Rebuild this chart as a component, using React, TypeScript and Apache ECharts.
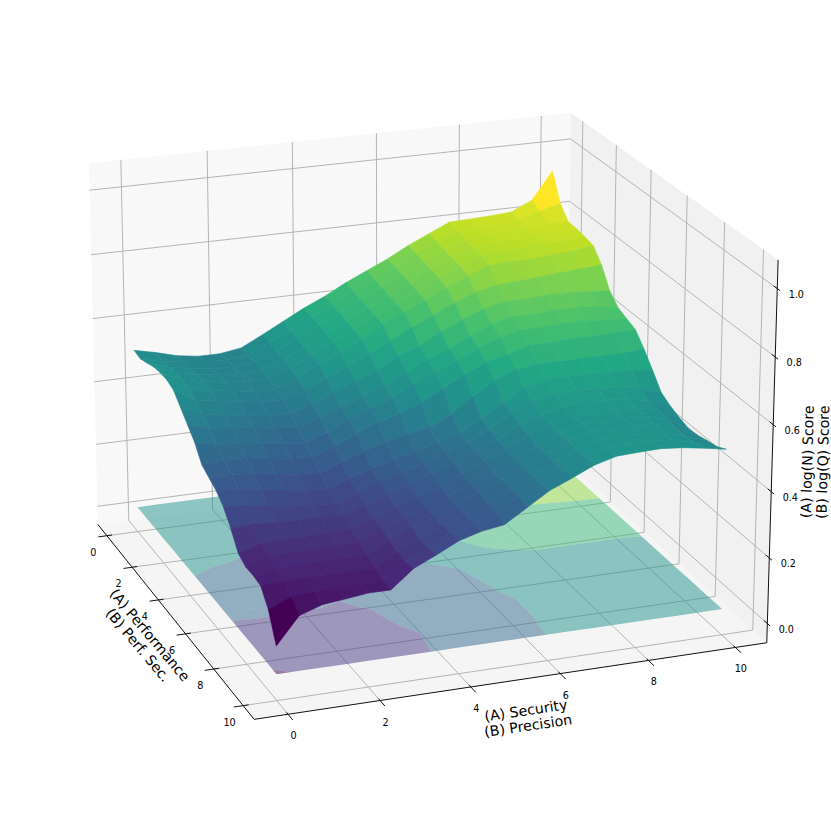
import React, { useEffect, useRef } from "react";
import * as echarts from "echarts";

const securityTicks = [0, 2, 4, 6, 8, 10];
const perfTicks = [0, 2, 4, 6, 8, 10];
const scoreTicks = [0, 0.2, 0.4, 0.6, 0.8, 1.0];
const gridStep = 0.5;
const contourLevels = [0, 0.15, 0.3, 0.45, 0.6, 0.75, 0.9, 1.05];

// rows: perf 0 -> 10 in steps of 0.5; columns: security 0 -> 10 in steps of 0.5
const scoreGrid = [
  [.52, .505, .487, .477, .477, .487, .52, .555, .59, .62, .655, .685, .715, .75, .78, .81, .812, .815, .82, .85, .936],
  [.515, .50, .49, .48, .48, .487, .52, .55, .585, .615, .65, .68, .71, .745, .775, .80, .805, .81, .815, .835, .852],
  [.525, .505, .49, .482, .48, .485, .515, .545, .58, .61, .645, .675, .705, .74, .77, .795, .80, .805, .81, .815, .814],
  [.535, .51, .495, .485, .48, .483, .51, .54, .575, .605, .64, .67, .70, .735, .765, .79, .795, .80, .805, .81, .812],
  [.54, .51, .495, .485, .48, .48, .505, .535, .57, .60, .635, .665, .695, .73, .76, .785, .79, .795, .80, .805, .807],
  [.54, .505, .49, .48, .47, .47, .495, .53, .56, .59, .63, .66, .69, .72, .75, .775, .78, .78, .785, .79, .80],
  [.53, .49, .48, .47, .46, .46, .48, .51, .54, .57, .60, .635, .665, .695, .72, .735, .74, .745, .75, .755, .76],
  [.50, .47, .46, .45, .44, .44, .46, .49, .515, .54, .575, .60, .635, .665, .69, .705, .705, .71, .71, .705, .70],
  [.47, .45, .445, .435, .425, .42, .44, .465, .49, .515, .55, .58, .605, .635, .665, .68, .68, .685, .685, .68, .668],
  [.44, .425, .42, .41, .40, .395, .42, .45, .475, .50, .535, .565, .59, .62, .645, .66, .66, .665, .665, .66, .655],
  [.395, .40, .40, .39, .38, .375, .40, .43, .455, .475, .50, .535, .57, .60, .615, .635, .635, .64, .64, .64, .643],
  [.38, .38, .375, .365, .355, .35, .375, .40, .42, .435, .445, .48, .525, .565, .59, .60, .60, .60, .60, .60, .605],
  [.365, .36, .35, .34, .33, .325, .35, .37, .39, .405, .425, .445, .48, .52, .555, .575, .575, .575, .575, .57, .561],
  [.34, .335, .325, .315, .31, .305, .33, .355, .375, .395, .42, .44, .47, .51, .535, .555, .555, .55, .55, .535, .515],
  [.30, .305, .30, .30, .30, .295, .315, .34, .36, .385, .41, .435, .46, .50, .52, .54, .54, .54, .535, .52, .497],
  [.25, .27, .275, .275, .275, .28, .30, .325, .345, .37, .40, .43, .455, .49, .515, .53, .53, .53, .53, .515, .484],
  [.235, .255, .26, .26, .26, .265, .295, .32, .34, .365, .395, .42, .445, .48, .51, .53, .53, .53, .53, .51, .475],
  [.235, .245, .25, .25, .25, .25, .285, .315, .335, .36, .39, .42, .445, .48, .51, .53, .53, .53, .53, .505, .477],
  [.23, .235, .235, .235, .235, .235, .275, .30, .335, .36, .385, .42, .445, .48, .51, .53, .53, .53, .525, .505, .484],
  [.185, .215, .22, .222, .225, .225, .27, .303, .338, .358, .38, .42, .45, .48, .51, .53, .532, .533, .527, .51, .49],
  [.104, .184, .207, .214, .222, .222, .276, .307, .34, .359, .369, .41, .452, .48, .51, .528, .531, .533, .527, .517, .505],
];

const xLabel = "(A) Security\n(B) Precision";
const yLabel = "(A) Performance\n(B) Perf. Sec.";
const zLabel = "(A) log(N) Score\n(B) log(Q) Score";

const W = 831;
const H = 821;
const FONT = '"DejaVu Sans"';

const VIRIDIS = ["#440154", "#482475", "#414487", "#355f8d", "#2a788e", "#21918c", "#22a884", "#44bf70", "#7ad151", "#bddf26", "#fde725"];
const hex = (c: string) => [1, 3, 5].map((k) => parseInt(c.slice(k, k + 2), 16));
function viridis(t: number) {
  const v = Math.max(0, Math.min(1, t)) * 10;
  const i = Math.min(9, Math.floor(v));
  const a = hex(VIRIDIS[i]);
  const b = hex(VIRIDIS[i + 1]);
  const f = v - i;
  return `rgb(${a.map((q, k) => Math.round(q + (b[k] - q) * f)).join(",")})`;
}

// axis box limits
const xMin = -0.73, xMax = 10.73, yMin = -0.73, yMax = 10.73, zMin = -0.059, zMax = 1.083;
const floorZ = 0.02;

// camera: box corner (u, v, w) -> where it falls on the page
const boxCorners = [
  [0, 1, 0, 254, 719],
  [1, 1, 0, 767, 643],
  [0, 0, 0, 98, 525],
  [1, 0, 0, 566, 462],
  [0, 0, 1, 89, 163],
  [1, 0, 1, 571, 113],
  [1, 1, 1, 778, 260],
];

function solveCamera() {
  const A: number[][] = [];
  const b: number[] = [];
  for (const [u, v, w, sx0, sy0] of boxCorners) {
    const sx = sx0 / 800, sy = sy0 / 800;
    A.push([u, v, w, 1, 0, 0, 0, 0, -sx * u, -sx * v, -sx * w]); b.push(sx);
    A.push([0, 0, 0, 0, u, v, w, 1, -sy * u, -sy * v, -sy * w]); b.push(sy);
  }
  const n = 11;
  const M = Array.from({ length: n }, (_, i) => {
    const row = new Array(n + 1).fill(0);
    for (let j = 0; j < n; j++) for (let k = 0; k < A.length; k++) row[j] += A[k][i] * A[k][j];
    for (let k = 0; k < A.length; k++) row[n] += A[k][i] * b[k];
    return row;
  });
  for (let c = 0; c < n; c++) {
    let p = c;
    for (let r = c + 1; r < n; r++) if (Math.abs(M[r][c]) > Math.abs(M[p][c])) p = r;
    [M[c], M[p]] = [M[p], M[c]];
    for (let r = 0; r < n; r++) {
      if (r === c) continue;
      const f = M[r][c] / M[c][c];
      for (let k = c; k <= n; k++) M[r][k] -= f * M[c][k];
    }
  }
  return M.map((row, i) => row[n] / row[i]);
}
const P = solveCamera();

function project(x: number, y: number, z: number): [number, number] {
  const u = (x - xMin) / (xMax - xMin);
  const v = (y - yMin) / (yMax - yMin);
  const w = (z - zMin) / (zMax - zMin);
  const d = P[8] * u + P[9] * v + P[10] * w + 1;
  return [
    ((P[0] * u + P[1] * v + P[2] * w + P[3]) / d) * 800,
    ((P[4] * u + P[5] * v + P[6] * w + P[7]) / d) * 800,
  ];
}

type Pt = [number, number, number];
const clipBand = (poly: Pt[], level: number, keepAbove: boolean): Pt[] => {
  const out: Pt[] = [];
  for (let i = 0; i < poly.length; i++) {
    const a = poly[i];
    const b = poly[(i + 1) % poly.length];
    const ina = keepAbove ? a[2] >= level : a[2] <= level;
    const inb = keepAbove ? b[2] >= level : b[2] <= level;
    if (ina) out.push(a);
    if (ina !== inb) {
      const t = (level - a[2]) / (b[2] - a[2]);
      out.push([a[0] + (b[0] - a[0]) * t, a[1] + (b[1] - a[1]) * t, level]);
    }
  }
  return out;
};

function floorBandPath(lo: number, hi: number) {
  let d = "";
  for (let j = 0; j < scoreGrid.length - 1; j++) {
    for (let i = 0; i < scoreGrid[j].length - 1; i++) {
      const q: Pt[] = [
        [i * gridStep, j * gridStep, scoreGrid[j][i]],
        [(i + 1) * gridStep, j * gridStep, scoreGrid[j][i + 1]],
        [(i + 1) * gridStep, (j + 1) * gridStep, scoreGrid[j + 1][i + 1]],
        [i * gridStep, (j + 1) * gridStep, scoreGrid[j + 1][i]],
      ];
      const c = clipBand(clipBand(q, lo, true), hi, false);
      if (c.length < 3) continue;
      c.forEach((p, k) => {
        const s = project(p[0], p[1], floorZ);
        d += `${k ? "L" : "M"}${s[0].toFixed(2)} ${s[1].toFixed(2)}`;
      });
      d += "Z";
    }
  }
  return d;
}

export default function App() {
  const ref = useRef<HTMLDivElement>(null);
  useEffect(() => {
    const chart = echarts.init(ref.current!, undefined, { renderer: "svg" });

    const mk = (items: any[], draw: (item: any, api: any) => any) => ({
      type: "custom" as const,
      coordinateSystem: "cartesian2d",
      silent: true,
      clip: false,
      animation: false,
      data: items.map((_, i) => [i, 0]),
      renderItem: (params: any, api: any) => draw(items[params.dataIndex], api),
    });
    const toPage = (api: any, p: [number, number]) => api.coord(p);
    const poly = (api: any, pts: [number, number][], style: any) => ({
      type: "polygon",
      shape: { points: pts.map((p) => toPage(api, p)) },
      style,
    });
    const seg = (api: any, a: [number, number], b: [number, number], stroke: string, lineWidth: number) => {
      const p = toPage(api, a);
      const q = toPage(api, b);
      return { type: "line", shape: { x1: p[0], y1: p[1], x2: q[0], y2: q[1] }, style: { stroke, lineWidth } };
    };

    // panes
    const panes = [
      { pts: [[xMin, yMin, zMin], [xMax, yMin, zMin], [xMax, yMin, zMax], [xMin, yMin, zMax]], fill: "#f8f8f8" },
      { pts: [[xMax, yMin, zMin], [xMax, yMax, zMin], [xMax, yMax, zMax], [xMax, yMin, zMax]], fill: "#f1f1f1" },
      { pts: [[xMin, yMin, zMin], [xMax, yMin, zMin], [xMax, yMax, zMin], [xMin, yMax, zMin]], fill: "#f5f5f5" },
    ];

    // grid
    const gridLines: number[][][] = [];
    securityTicks.forEach((t) => {
      gridLines.push([[t, yMin, zMin], [t, yMin, zMax]]);
      gridLines.push([[t, yMin, zMin], [t, yMax, zMin]]);
    });
    perfTicks.forEach((t) => {
      gridLines.push([[xMax, t, zMin], [xMax, t, zMax]]);
      gridLines.push([[xMin, t, zMin], [xMax, t, zMin]]);
    });
    scoreTicks.forEach((t) => {
      gridLines.push([[xMin, yMin, t], [xMax, yMin, t]]);
      gridLines.push([[xMax, yMin, t], [xMax, yMax, t]]);
    });

    // floor contours
    const bands = contourLevels.slice(0, -1).map((lo, k) => ({
      d: floorBandPath(lo, contourLevels[k + 1]),
      fill: viridis(k / (contourLevels.length - 2)),
    }));

    // surface facets
    const cells: { i: number; j: number; avg: number; key: number }[] = [];
    for (let j = 0; j < scoreGrid.length - 1; j++) {
      for (let i = 0; i < scoreGrid[j].length - 1; i++) {
        const avg = (scoreGrid[j][i] + scoreGrid[j][i + 1] + scoreGrid[j + 1][i] + scoreGrid[j + 1][i + 1]) / 4;
        cells.push({ i, j, avg, key: j * gridStep * 0.94 - i * gridStep * 0.34 + avg * 3 });
      }
    }
    cells.sort((a, b) => a.key - b.key);
    const avgs = cells.map((c) => c.avg);
    const vMin = Math.min(...avgs);
    const vMax = Math.max(...avgs);

    // axes
    const axisLines = [
      [[xMin, yMax, zMin], [xMax, yMax, zMin]],
      [[xMin, yMin, zMin], [xMin, yMax, zMin]],
      [[xMax, yMax, zMin], [xMax, yMax, zMax]],
    ];
    const tickMarks: number[][][] = [];
    securityTicks.forEach((t) => tickMarks.push([[t, yMax - 0.1, zMin], [t, yMax + 0.3, zMin]]));
    perfTicks.forEach((t) => tickMarks.push([[xMin + 0.12, t, zMin], [xMin - 0.2, t, zMin]]));
    scoreTicks.forEach((t) => tickMarks.push([[xMax, yMax - 0.18, t], [xMax, yMax + 0.14, t]]));

    // texts
    const texts: any[] = [];
    const tickText = (text: string, p: [number, number], dx: number, dy: number) =>
      texts.push({ text, x: p[0] + dx, y: p[1] + dy, rot: 0, size: 9.6 });
    securityTicks.forEach((t) => tickText(String(t), project(t, yMax, zMin), 5.5, 21.5));
    perfTicks.forEach((t) => tickText(String(t), project(xMin, t, zMin), -13.5, 16.5));
    scoreTicks.forEach((t) => tickText(t.toFixed(1), project(xMax, yMax, t), 19, 5.5));
    texts.push({ text: xLabel, x: 527, y: 718, rot: 8.4, size: 14.2, lh: 15.5 });
    texts.push({ text: yLabel, x: 144, y: 640, rot: -50, size: 14.2, lh: 15.5 });
    texts.push({ text: zLabel, x: 815, y: 462, rot: 88.5, size: 14.2, lh: 15.5 });

    const series = [
      mk(panes, (p, api) =>
        poly(api, p.pts.map((q: number[]) => project(q[0], q[1], q[2])), { fill: p.fill, stroke: "none" })
      ),
      mk(gridLines, (l, api) =>
        seg(api, project(l[0][0], l[0][1], l[0][2]), project(l[1][0], l[1][1], l[1][2]), "#b4b4b4", 1)
      ),
      mk(bands, (b) => ({
        type: "path",
        shape: { pathData: b.d },
        style: { fill: b.fill, opacity: 0.5, stroke: "none" },
      })),
      mk(cells, (c, api) => {
        const { i, j } = c;
        const corner = (ii: number, jj: number) => project(ii * gridStep, jj * gridStep, scoreGrid[jj][ii]);
        const fill = viridis((c.avg - vMin) / (vMax - vMin));
        return poly(api, [corner(i, j), corner(i + 1, j), corner(i + 1, j + 1), corner(i, j + 1)], {
          fill,
          stroke: fill,
          lineWidth: 0.6,
        });
      }),
      mk(axisLines, (l, api) =>
        seg(api, project(l[0][0], l[0][1], l[0][2]), project(l[1][0], l[1][1], l[1][2]), "#111", 1)
      ),
      mk(tickMarks, (l, api) =>
        seg(api, project(l[0][0], l[0][1], l[0][2]), project(l[1][0], l[1][1], l[1][2]), "#111", 1)
      ),
      mk(texts, (t, api) => {
        const c = toPage(api, [t.x, t.y]);
        return {
          type: "text",
          x: c[0],
          y: c[1],
          rotation: (t.rot * Math.PI) / 180,
          style: {
            text: t.text,
            fill: "#000",
            font: `${t.size}px ${FONT}`,
            align: "center",
            verticalAlign: "middle",
            lineHeight: t.lh,
          },
        };
      }),
    ];

    chart.setOption({
      animation: false,
      backgroundColor: "#fff",
      grid: { left: 0, right: 0, top: 0, bottom: 0, containLabel: false },
      xAxis: { type: "value", min: 0, max: W, show: false },
      yAxis: { type: "value", min: 0, max: H, inverse: true, show: false },
      series,
    });
    return () => chart.dispose();
  }, []);
  return <div ref={ref} style={{ position: "fixed", left: 0, top: 0, width: W, height: H }} />;
}
